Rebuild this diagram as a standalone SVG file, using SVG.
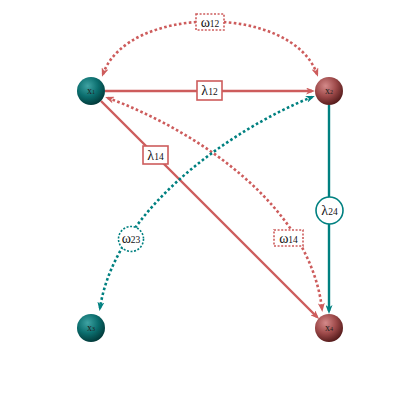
<svg xmlns="http://www.w3.org/2000/svg" width="420" height="420" viewBox="0 0 420 420">
<defs>
<radialGradient id="gTeal" cx="0.38" cy="0.32" r="0.75">
<stop offset="0" stop-color="#3fa3a3"/>
<stop offset="0.5" stop-color="#0b6e6e"/>
<stop offset="1" stop-color="#003232"/>
</radialGradient>
<radialGradient id="gRed" cx="0.38" cy="0.32" r="0.75">
<stop offset="0" stop-color="#d48a8a"/>
<stop offset="0.5" stop-color="#9e4a4a"/>
<stop offset="1" stop-color="#4a1414"/>
</radialGradient>
<marker id="aR" viewBox="0 0 9 7" refX="6" refY="3.5" markerWidth="9" markerHeight="7" markerUnits="userSpaceOnUse" orient="auto">
<path d="M0,0 L9,3.5 L0,7 L2.5,3.5 Z" fill="#cd5c5c"/>
</marker>
<marker id="aRs" viewBox="0 0 9 7" refX="6" refY="3.5" markerWidth="9" markerHeight="7" markerUnits="userSpaceOnUse" orient="auto-start-reverse">
<path d="M0,0 L9,3.5 L0,7 L2.5,3.5 Z" fill="#cd5c5c"/>
</marker>
<marker id="aT" viewBox="0 0 9 7" refX="6" refY="3.5" markerWidth="9" markerHeight="7" markerUnits="userSpaceOnUse" orient="auto">
<path d="M0,0 L9,3.5 L0,7 L2.5,3.5 Z" fill="#008080"/>
</marker>
<marker id="aTs" viewBox="0 0 9 7" refX="6" refY="3.5" markerWidth="9" markerHeight="7" markerUnits="userSpaceOnUse" orient="auto-start-reverse">
<path d="M0,0 L9,3.5 L0,7 L2.5,3.5 Z" fill="#008080"/>
</marker>
</defs>
<style>
.solidR{fill:none;stroke:#cd5c5c;stroke-width:2.4}
.solidT{fill:none;stroke:#008080;stroke-width:2.4}
.dotR{fill:none;stroke:#cd5c5c;stroke-width:2.6;stroke-dasharray:2.6 2.4}
.dotT{fill:none;stroke:#008080;stroke-width:2.6;stroke-dasharray:2.6 2.4}
.lblR{fill:#fff;stroke:#cd5c5c;stroke-width:1.6}
.lblRd{fill:#fff;stroke:#cd5c5c;stroke-width:1.6;stroke-dasharray:2 1.6}
.lblT{fill:#fff;stroke:#008080;stroke-width:1.6}
.lblTd{fill:#fff;stroke:#008080;stroke-width:1.6;stroke-dasharray:2 1.6}
.lt{font-family:"Liberation Serif","DejaVu Serif",serif;font-size:14px;fill:#111;text-anchor:middle}
.sub{font-size:9.5px}
.nt{font-family:"Liberation Serif","DejaVu Serif",serif;font-size:10px;fill:#222;text-anchor:middle}
.nsub{font-size:6px}
</style>
<g id="connectors">
<path class="solidR" d="M105,91 L312,91" marker-end="url(#aR)"/>
<path class="solidR" d="M101,101 L317,317" marker-end="url(#aR)"/>
<path class="solidT" d="M329,105 L329,311" marker-end="url(#aT)"/>
<path class="dotR" d="M103,74 C128,4 292,4 317,74" marker-start="url(#aRs)" marker-end="url(#aR)"/>
<path class="dotR" d="M108,98 C195,130 310,205 322,309" marker-start="url(#aRs)" marker-end="url(#aR)"/>
<path class="dotT" d="M312,97 C230,130 115,210 100,308" marker-start="url(#aTs)" marker-end="url(#aT)"/>
</g>
<g id="label-w12"><rect class="lblRd" x="196" y="14" width="28" height="16"/><text class="lt" x="210" y="26.5">ω<tspan class="sub">12</tspan></text></g>
<g id="label-l12"><rect class="lblR" x="197" y="81" width="25" height="19"/><text class="lt" x="209.5" y="95">λ<tspan class="sub">12</tspan></text></g>
<g id="label-l14"><rect class="lblR" x="143" y="146" width="25" height="18"/><text class="lt" x="155.5" y="160">λ<tspan class="sub">14</tspan></text></g>
<g id="label-l24"><circle class="lblT" cx="329.5" cy="210.5" r="13.5"/><text class="lt" x="329.5" y="215">λ<tspan class="sub">24</tspan></text></g>
<g id="label-w23"><circle class="lblTd" cx="131" cy="239" r="12.5"/><text class="lt" x="131" y="243">ω<tspan class="sub">23</tspan></text></g>
<g id="label-w14"><rect class="lblRd" x="274" y="230" width="29" height="16"/><text class="lt" x="288.5" y="242.5">ω<tspan class="sub">14</tspan></text></g>
<g id="node-x1"><circle cx="91" cy="91" r="14" fill="url(#gTeal)"/><text class="nt" x="91" y="94">x<tspan class="nsub">1</tspan></text></g>
<g id="node-x2"><circle cx="329" cy="91" r="14" fill="url(#gRed)"/><text class="nt" x="329" y="94">x<tspan class="nsub">2</tspan></text></g>
<g id="node-x3"><circle cx="91" cy="328" r="14" fill="url(#gTeal)"/><text class="nt" x="91" y="331">x<tspan class="nsub">3</tspan></text></g>
<g id="node-x4"><circle cx="329" cy="328" r="14" fill="url(#gRed)"/><text class="nt" x="329" y="331">x<tspan class="nsub">4</tspan></text></g>
</svg>
